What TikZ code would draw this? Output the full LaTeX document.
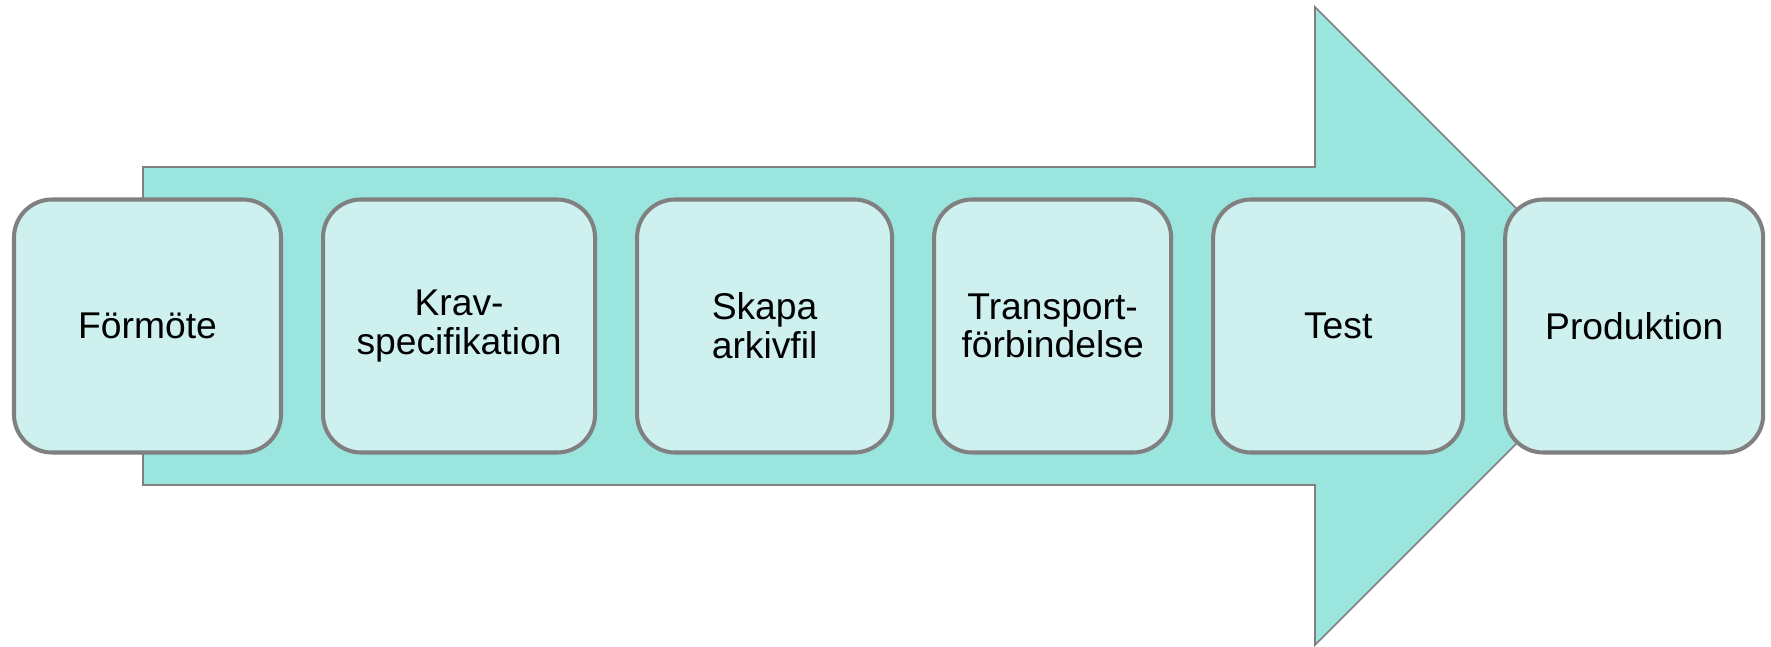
\documentclass[tikz,border=0pt]{standalone}
\usepackage{fontspec}
\setmainfont{Liberation Sans}
\usepackage{tikz}
\usetikzlibrary{positioning}
\definecolor{arrowfill}{RGB}{154,229,222}
\definecolor{boxfill}{RGB}{206,241,239}
\definecolor{boxline}{RGB}{128,128,128}
\tikzset{phase node/.style={rectangle,rounded corners=0.38cm,fill=boxfill,draw=boxline,line width=1.15pt,
            minimum height=2.53cm,inner sep=0pt,align=center,
            font=\fontsize{10.6}{11}\selectfont},
         big arrow/.style={fill=arrowfill,draw=boxline,line width=0.45pt},
            }

\begin{document}
\begin{tikzpicture}[node distance=0.38cm]
\useasboundingbox (0,0) rectangle (17.71,6.46);
% the arrow behind the steps
 \draw[big arrow] (1.43,4.79) -- (13.15,4.79) -- (13.15,6.39) -- (16.34,3.2)
     -- (13.15,0.01) -- (13.15,1.61) -- (1.43,1.61) -- cycle;
% the steps
 \node[phase node,minimum width=2.67cm] (fmt) at (1.475,3.2) {Förmöte};
 \node[phase node,minimum width=2.72cm] (krv)[right=of fmt] {Krav-\\specifikation};
 \node[phase node,minimum width=2.55cm] (ark)[right=of krv] {Skapa\\arkivfil};
 \node[phase node,minimum width=2.37cm] (trp)[right=of ark] {Transport-\\förbindelse};
 \node[phase node,minimum width=2.50cm] (tst)[right=of trp] {Test};
 \node[phase node,minimum width=2.58cm] (prd)[right=of tst] {Produktion};
\end{tikzpicture}
\end{document}
